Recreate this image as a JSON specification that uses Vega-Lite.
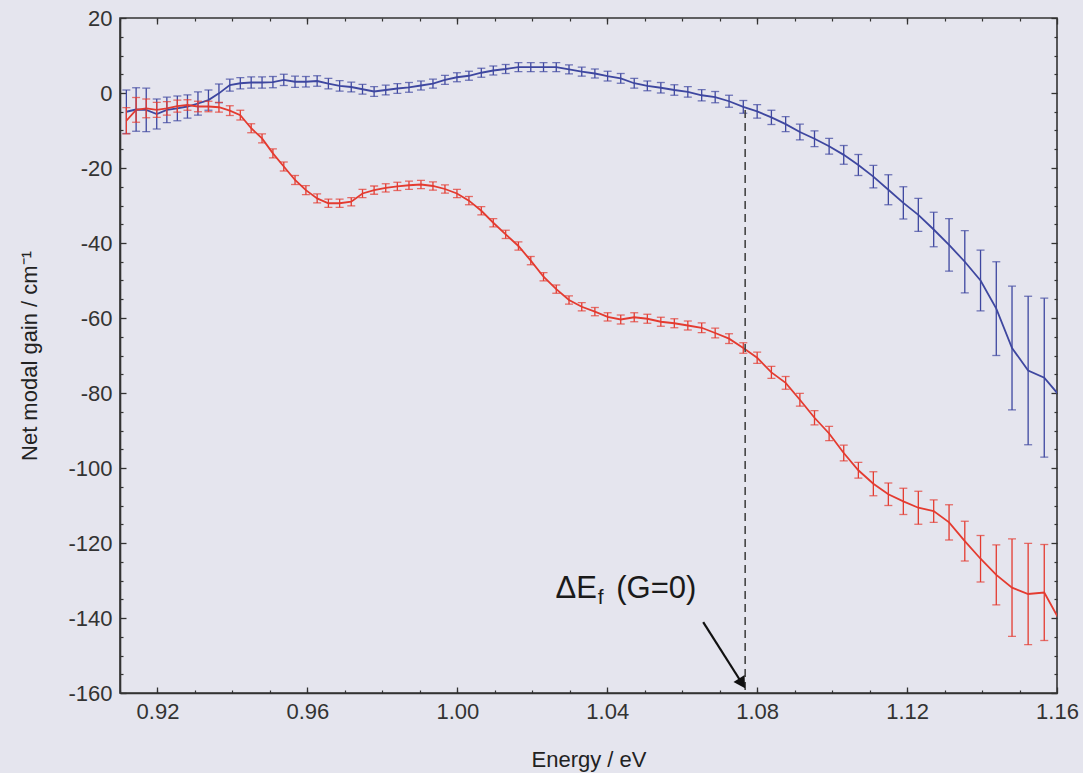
{
  "$schema": "https://vega.github.io/schema/vega-lite/v6.json",
  "width": 937,
  "height": 675,
  "autosize": {"type": "none"},
  "padding": {"left": 120, "top": 18, "right": 26, "bottom": 80},
  "background": "#e5e5ee",
  "config": {
    "font": "Liberation Sans",
    "view": {"stroke": "#333333", "strokeWidth": 1.6},
    "axis": {"grid": false, "labelFont": "Liberation Sans", "titleFont": "Liberation Sans", "tickColor": "#333333", "domainColor": "#333333", "labelColor": "#333333", "titleColor": "#222222", "titleFontWeight": "normal"}
  },
  "datasets": {
    "curves": [
      {"E": 0.9117, "b": -5.0, "be": 5.8, "r": -7.4, "re": 3.5},
      {"E": 0.9143, "b": -4.4, "be": 5.8, "r": -4.5, "re": 3.3},
      {"E": 0.9170, "b": -4.5, "be": 5.8, "r": -4.1, "re": 2.5},
      {"E": 0.9198, "b": -5.6, "be": 4.0, "r": -4.5, "re": 2.0},
      {"E": 0.9225, "b": -4.5, "be": 3.4, "r": -4.1, "re": 1.8},
      {"E": 0.9253, "b": -4.1, "be": 3.3, "r": -3.5, "re": 1.6},
      {"E": 0.9280, "b": -3.6, "be": 3.1, "r": -3.2, "re": 1.4},
      {"E": 0.9308, "b": -2.8, "be": 3.1, "r": -3.6, "re": 1.4},
      {"E": 0.9336, "b": -1.9, "be": 2.7, "r": -3.6, "re": 1.4},
      {"E": 0.9364, "b": -0.1, "be": 2.5, "r": -3.8, "re": 1.3},
      {"E": 0.9393, "b": 2.1, "be": 1.6, "r": -4.7, "re": 1.3},
      {"E": 0.9421, "b": 2.6, "be": 1.5, "r": -5.9, "re": 1.3},
      {"E": 0.9450, "b": 2.8, "be": 1.5, "r": -9.4, "re": 1.2},
      {"E": 0.9479, "b": 2.8, "be": 1.5, "r": -12.1, "re": 1.2},
      {"E": 0.9508, "b": 2.9, "be": 1.5, "r": -16.1, "re": 1.2},
      {"E": 0.9537, "b": 3.5, "be": 1.5, "r": -19.6, "re": 1.2},
      {"E": 0.9567, "b": 3.0, "be": 1.5, "r": -23.2, "re": 1.2},
      {"E": 0.9596, "b": 3.0, "be": 1.4, "r": -25.9, "re": 1.2},
      {"E": 0.9626, "b": 3.2, "be": 1.4, "r": -28.1, "re": 1.2},
      {"E": 0.9656, "b": 2.5, "be": 1.4, "r": -29.4, "re": 1.1},
      {"E": 0.9686, "b": 1.9, "be": 1.4, "r": -29.4, "re": 1.1},
      {"E": 0.9717, "b": 1.6, "be": 1.3, "r": -29.0, "re": 1.1},
      {"E": 0.9747, "b": 1.0, "be": 1.3, "r": -26.8, "re": 1.1},
      {"E": 0.9778, "b": 0.4, "be": 1.3, "r": -25.9, "re": 1.1},
      {"E": 0.9809, "b": 0.8, "be": 1.3, "r": -25.3, "re": 1.1},
      {"E": 0.9840, "b": 1.2, "be": 1.3, "r": -24.9, "re": 1.1},
      {"E": 0.9871, "b": 1.5, "be": 1.3, "r": -24.6, "re": 1.1},
      {"E": 0.9903, "b": 2.0, "be": 1.2, "r": -24.4, "re": 1.1},
      {"E": 0.9935, "b": 2.5, "be": 1.2, "r": -24.8, "re": 1.1},
      {"E": 0.9967, "b": 3.5, "be": 1.2, "r": -25.6, "re": 1.1},
      {"E": 0.9999, "b": 4.2, "be": 1.2, "r": -26.8, "re": 1.1},
      {"E": 1.0031, "b": 4.6, "be": 1.2, "r": -28.7, "re": 1.1},
      {"E": 1.0064, "b": 5.4, "be": 1.2, "r": -31.4, "re": 1.1},
      {"E": 1.0096, "b": 6.0, "be": 1.2, "r": -34.6, "re": 1.1},
      {"E": 1.0129, "b": 6.4, "be": 1.2, "r": -37.7, "re": 1.1},
      {"E": 1.0163, "b": 6.9, "be": 1.2, "r": -40.8, "re": 1.1},
      {"E": 1.0196, "b": 6.9, "be": 1.2, "r": -44.7, "re": 1.1},
      {"E": 1.0230, "b": 6.9, "be": 1.2, "r": -49.0, "re": 1.1},
      {"E": 1.0264, "b": 6.9, "be": 1.2, "r": -52.3, "re": 1.1},
      {"E": 1.0298, "b": 6.3, "be": 1.2, "r": -55.2, "re": 1.1},
      {"E": 1.0332, "b": 5.7, "be": 1.2, "r": -57.0, "re": 1.1},
      {"E": 1.0367, "b": 5.2, "be": 1.2, "r": -58.3, "re": 1.1},
      {"E": 1.0401, "b": 4.5, "be": 1.3, "r": -59.7, "re": 1.1},
      {"E": 1.0436, "b": 3.9, "be": 1.3, "r": -60.4, "re": 1.2},
      {"E": 1.0472, "b": 2.6, "be": 1.3, "r": -59.8, "re": 1.2},
      {"E": 1.0507, "b": 1.9, "be": 1.3, "r": -60.2, "re": 1.2},
      {"E": 1.0543, "b": 1.4, "be": 1.4, "r": -61.0, "re": 1.2},
      {"E": 1.0579, "b": 0.8, "be": 1.4, "r": -61.4, "re": 1.2},
      {"E": 1.0615, "b": 0.3, "be": 1.4, "r": -62.0, "re": 1.2},
      {"E": 1.0652, "b": -0.6, "be": 1.5, "r": -62.6, "re": 1.3},
      {"E": 1.0688, "b": -1.1, "be": 1.5, "r": -64.0, "re": 1.3},
      {"E": 1.0725, "b": -2.2, "be": 1.6, "r": -65.5, "re": 1.3},
      {"E": 1.0763, "b": -3.7, "be": 1.7, "r": -68.0, "re": 1.4},
      {"E": 1.0800, "b": -4.9, "be": 1.8, "r": -70.6, "re": 1.5},
      {"E": 1.0838, "b": -6.5, "be": 1.9, "r": -74.5, "re": 1.6},
      {"E": 1.0876, "b": -8.3, "be": 2.0, "r": -77.3, "re": 1.7},
      {"E": 1.0914, "b": -10.4, "be": 2.1, "r": -81.8, "re": 1.7},
      {"E": 1.0953, "b": -12.2, "be": 2.1, "r": -86.6, "re": 1.9},
      {"E": 1.0992, "b": -14.2, "be": 2.1, "r": -90.8, "re": 1.9},
      {"E": 1.1031, "b": -16.5, "be": 2.5, "r": -96.0, "re": 2.1},
      {"E": 1.1070, "b": -19.2, "be": 2.8, "r": -100.6, "re": 2.1},
      {"E": 1.1110, "b": -22.3, "be": 3.0, "r": -104.2, "re": 3.2},
      {"E": 1.1150, "b": -25.8, "be": 4.0, "r": -107.0, "re": 3.0},
      {"E": 1.1190, "b": -29.3, "be": 4.3, "r": -108.9, "re": 3.5},
      {"E": 1.1230, "b": -32.5, "be": 4.4, "r": -110.6, "re": 4.4},
      {"E": 1.1271, "b": -36.4, "be": 4.6, "r": -111.5, "re": 3.0},
      {"E": 1.1312, "b": -40.5, "be": 7.0, "r": -114.5, "re": 4.7},
      {"E": 1.1354, "b": -45.0, "be": 8.3, "r": -119.5, "re": 5.3},
      {"E": 1.1396, "b": -50.0, "be": 8.1, "r": -124.2, "re": 6.2},
      {"E": 1.1438, "b": -57.5, "be": 12.5, "r": -128.5, "re": 8.0},
      {"E": 1.1480, "b": -68.0, "be": 16.5, "r": -131.9, "re": 13.0},
      {"E": 1.1523, "b": -74.0, "be": 19.8, "r": -133.6, "re": 13.5},
      {"E": 1.1566, "b": -75.9, "be": 21.2, "r": -133.2, "re": 12.8},
      {"E": 1.1609, "b": -81.0, "be": 21.0, "r": -141.0, "re": 13.0}
    ],
    "dash": [{"E": 1.0768, "top": -4.5, "bot": -160}],
    "arrow": [{"xa": 1.0656, "ya": -141.1, "xb": 1.0757, "yb": -157.0}],
    "head": [{"E": 1.0757, "g": -157.0}],
    "labels": [
      {"E": 1.0262, "g": -134.6, "t": "ΔE", "s": "big"},
      {"E": 1.0375, "g": -136.3, "t": "f", "s": "small"},
      {"E": 1.0424, "g": -134.6, "t": "(G=0)", "s": "big"}
    ]
  },
  "resolve": {"axis": {"x": "independent", "y": "independent"}},
  "layer": [
    {
      "data": {"name": "curves"},
      "mark": {"type": "line", "color": "#3e47a0", "strokeWidth": 1.8, "clip": true},
      "encoding": {
        "x": {"field": "E", "type": "quantitative", "scale": {"domain": [0.91, 1.16], "nice": false, "zero": false},
          "axis": {"orient": "bottom", "values": [0.92, 0.96, 1.0, 1.04, 1.08, 1.12, 1.16], "format": ".2f", "tickSize": -6, "tickWidth": 1.3, "domainWidth": 1.6, "labelFontSize": 22, "labelPadding": 14, "labelFlush": false, "labelOverlap": false, "title": "Energy / eV", "titleFontSize": 22, "titleY": 73, "titleBaseline": "alphabetic"}},
        "y": {"field": "b", "type": "quantitative", "scale": {"domain": [-160, 20], "nice": false, "zero": false},
          "axis": {"orient": "left", "values": [-160, -140, -120, -100, -80, -60, -40, -20, 0, 20], "labelExpr": "replace(format(datum.value, 'd'), '−', '-')", "tickSize": -6, "tickWidth": 1.3, "domainWidth": 1.6, "labelFontSize": 22, "labelPadding": 14, "labelFlush": false, "labelOverlap": false, "title": "Net modal gain / cm⁻¹", "titleFontSize": 22, "titleX": -91, "titleY": 337.5, "titleAngle": -90, "titleAlign": "center", "titleBaseline": "middle"}}
      }
    },
    {
      "data": {"name": "curves"},
      "mark": {"type": "line", "color": "#e43b30", "strokeWidth": 1.8, "clip": true},
      "encoding": {
        "x": {"field": "E", "type": "quantitative", "scale": {"domain": [0.91, 1.16], "nice": false, "zero": false},
          "axis": {"orient": "bottom", "values": [0.91, 0.92, 0.93, 0.94, 0.95, 0.96, 0.97, 0.98, 0.99, 1.0, 1.01, 1.02, 1.03, 1.04, 1.05, 1.06, 1.07, 1.08, 1.09, 1.1, 1.11, 1.12, 1.13, 1.14, 1.15], "labels": false, "domain": false, "tickSize": -3, "tickWidth": 1.2, "title": null}},
        "y": {"field": "r", "type": "quantitative", "scale": {"domain": [-160, 20], "nice": false, "zero": false},
          "axis": {"orient": "left", "values": [-155, -150, -145, -135, -130, -125, -115, -110, -105, -95, -90, -85, -75, -70, -65, -55, -50, -45, -35, -30, -25, -15, -10, -5, 5, 10, 15], "labels": false, "domain": false, "tickSize": -3, "tickWidth": 1.2, "title": null}}
      }
    },
    {
      "data": {"name": "curves"},
      "transform": [{"filter": "datum.E < 1.16"}],
      "mark": {"type": "errorbar", "ticks": true, "size": 8, "thickness": 1.3, "color": "#3e47a0"},
      "encoding": {
        "x": {"field": "E", "type": "quantitative", "axis": null},
        "y": {"field": "b", "type": "quantitative", "axis": null},
        "yError": {"field": "be"}
      }
    },
    {
      "data": {"name": "curves"},
      "transform": [{"filter": "datum.E < 1.16"}],
      "mark": {"type": "errorbar", "ticks": true, "size": 8, "thickness": 1.3, "color": "#e43b30"},
      "encoding": {
        "x": {"field": "E", "type": "quantitative", "axis": null},
        "y": {"field": "r", "type": "quantitative", "axis": null},
        "yError": {"field": "re"}
      }
    },
    {
      "data": {"name": "dash"},
      "mark": {"type": "rule", "color": "#444444", "strokeWidth": 1.6, "strokeDash": [8, 5]},
      "encoding": {
        "x": {"field": "E", "type": "quantitative", "scale": {"domain": [0.91, 1.16], "nice": false, "zero": false},
          "axis": {"orient": "top", "values": [0.92, 0.96, 1.0, 1.04, 1.08, 1.12, 1.16], "labels": false, "domain": false, "tickSize": -6, "tickWidth": 1.3, "title": null}},
        "y": {"field": "top", "type": "quantitative", "scale": {"domain": [-160, 20], "nice": false, "zero": false},
          "axis": {"orient": "right", "values": [-160, -140, -120, -100, -80, -60, -40, -20, 0, 20], "labels": false, "domain": false, "tickSize": -6, "tickWidth": 1.3, "title": null}},
        "y2": {"field": "bot"}
      }
    },
    {
      "data": {"name": "arrow"},
      "mark": {"type": "rule", "color": "#111111", "strokeWidth": 2.2},
      "encoding": {
        "x": {"field": "xa", "type": "quantitative", "scale": {"domain": [0.91, 1.16], "nice": false, "zero": false},
          "axis": {"orient": "top", "values": [0.91, 0.92, 0.93, 0.94, 0.95, 0.96, 0.97, 0.98, 0.99, 1.0, 1.01, 1.02, 1.03, 1.04, 1.05, 1.06, 1.07, 1.08, 1.09, 1.1, 1.11, 1.12, 1.13, 1.14, 1.15], "labels": false, "domain": false, "tickSize": -3, "tickWidth": 1.2, "title": null}},
        "y": {"field": "ya", "type": "quantitative", "scale": {"domain": [-160, 20], "nice": false, "zero": false},
          "axis": {"orient": "right", "values": [-155, -150, -145, -135, -130, -125, -115, -110, -105, -95, -90, -85, -75, -70, -65, -55, -50, -45, -35, -30, -25, -15, -10, -5, 5, 10, 15], "labels": false, "domain": false, "tickSize": -3, "tickWidth": 1.2, "title": null}},
        "x2": {"field": "xb"},
        "y2": {"field": "yb"}
      }
    },
    {
      "data": {"name": "head"},
      "mark": {"type": "point", "shape": "triangle", "filled": true, "color": "#111111", "opacity": 1, "size": 170, "angle": 148},
      "encoding": {
        "x": {"field": "E", "type": "quantitative", "axis": null},
        "y": {"field": "g", "type": "quantitative", "axis": null}
      }
    },
    {
      "data": {"name": "labels"},
      "mark": {"type": "text", "align": "left", "baseline": "alphabetic", "color": "#1a1a1a", "font": "Liberation Sans"},
      "encoding": {
        "x": {"field": "E", "type": "quantitative", "axis": null},
        "y": {"field": "g", "type": "quantitative", "axis": null},
        "text": {"field": "t"},
        "size": {"field": "s", "type": "nominal", "scale": {"domain": ["big", "small"], "range": [31, 21]}, "legend": null}
      }
    }
  ]
}
